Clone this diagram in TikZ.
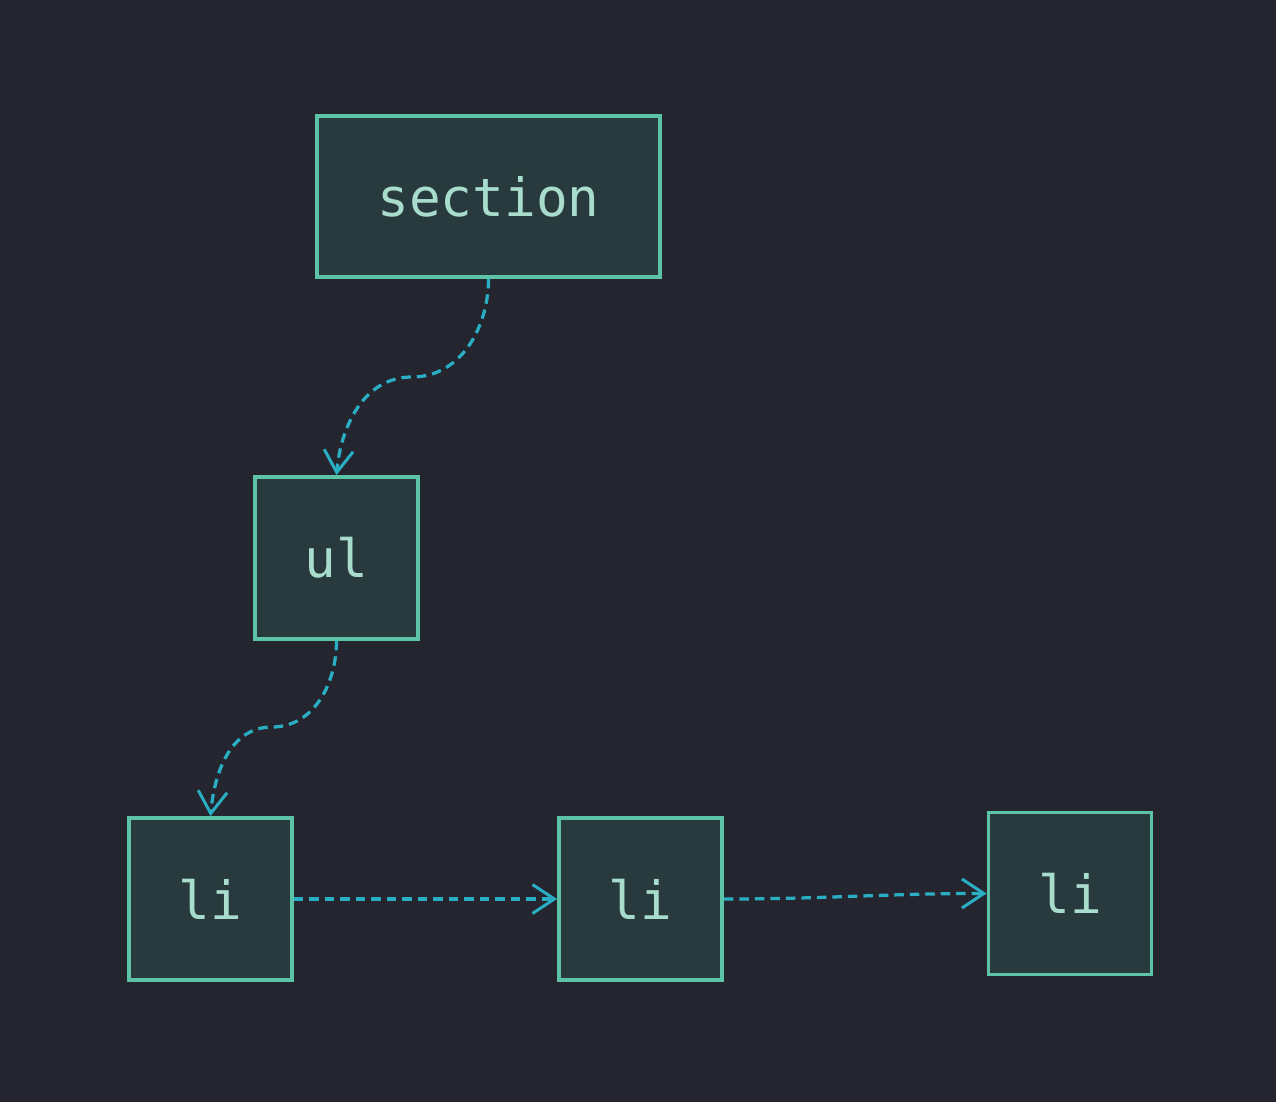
\documentclass[tikz,border=0pt]{standalone}
\usepackage{fontspec}
\setmonofont{DejaVu Sans Mono}
\usetikzlibrary{arrows.meta}
\definecolor{bgc}{HTML}{24252E}
\definecolor{boxfill}{HTML}{283A3D}
\definecolor{boxline}{HTML}{5CC3A6}
\definecolor{arrowc}{HTML}{2AAEC4}
\definecolor{txtc}{HTML}{A8DCCC}
\tikzset{
  elem/.style={draw=boxline, fill=boxfill, line width=0.075cm, inner sep=0pt,
    text=txtc, font=\ttfamily\fontsize{30}{36}\selectfont,
    minimum width=3.26cm, minimum height=3.24cm},
  link/.style={draw=arrowc, line width=0.065cm, dash pattern=on 0.19cm off 0.12cm,
    -{Straight Barb[length=0.44cm,width=0.58cm,line width=0.06cm]}}
}
\begin{document}
\begin{tikzpicture}[x=0.02cm,y=-0.02cm]
  \fill[bgc] (0,0) rectangle (1276,1102);
  \useasboundingbox (0,0) rectangle (1276,1102);
  \node[elem, minimum width=6.86cm, minimum height=3.22cm] (sec) at (488.5,196.5) {section};
  \node[elem] (ul) at (336.5,558) {ul};
  \node[elem] (li1) at (210.5,899) {li};
  \node[elem] (li2) at (640.5,899) {li};
  \node[elem] (li3) at (1070,893.5) {li};
  \coordinate (m1) at (412,377);
  \coordinate (m2) at (272,727);
  \draw[link] (sec.south) to[out=-90,in=0] (m1) to[out=180,in=85] (ul.north);
  \draw[link] (ul.south) to[out=-90,in=0] (m2) to[out=180,in=85] (li1.north);
  \draw[link] (li1.east) -- (li2.west);
  \draw[link] (li2.east) to[out=0,in=180] (li3.west);
\end{tikzpicture}
\end{document}
